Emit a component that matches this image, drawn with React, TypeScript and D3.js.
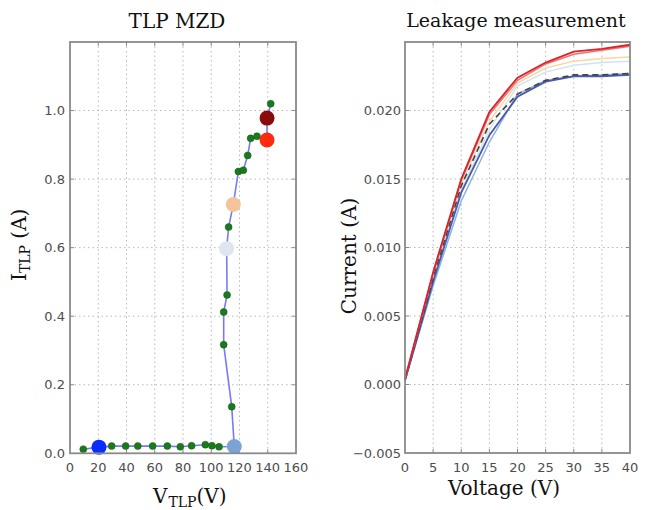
import React from "react";
import * as d3 from "d3";

// ---------- Left panel: TLP I-V ----------
const tlpV = [9.4, 20.5, 29.5, 39.4, 48, 58.5, 68.9, 78.1, 86.1, 95.8, 100.5, 105.5, 116.3, 114.5, 108.8, 108.8, 111.2, 110.9, 112.3, 115.6, 119.2, 122.7, 125.8, 127.9, 132.4, 139.5, 139.5, 142.1];
const tlpI = [0.012, 0.018, 0.021, 0.021, 0.021, 0.021, 0.021, 0.019, 0.022, 0.025, 0.022, 0.019, 0.02, 0.136, 0.317, 0.412, 0.462, 0.597, 0.66, 0.726, 0.822, 0.826, 0.869, 0.919, 0.925, 0.914, 0.978, 1.02];

const hiV = [20.5, 116.3, 110.9, 115.6, 139.5, 139.5];
const hiI = [0.018, 0.02, 0.597, 0.726, 0.914, 0.978];
const hiColors = ["#0a2cff", "#7ba3d4", "#dfe6ef", "#f6c49a", "#ff2a10", "#8b0a0a"];

const tlpXTicks = [0, 20, 40, 60, 80, 100, 120, 140, 160];
const tlpYTicks = [0.0, 0.2, 0.4, 0.6, 0.8, 1.0];

// ---------- Right panel: leakage ----------
const leakV = [0, 5, 10, 15, 20, 25, 30, 35, 40];
const leakPale = [0.0003, 0.0077, 0.0142, 0.0186, 0.0218, 0.0228, 0.0233, 0.0235, 0.0236];
const leakPeach = [0.0003, 0.0079, 0.0146, 0.0192, 0.022, 0.0231, 0.0236, 0.0238, 0.0239];
const leakSteel = [0.0003, 0.0072, 0.0134, 0.0177, 0.0212, 0.0222, 0.0225, 0.0226, 0.0227];
const leakBlue = [0.0003, 0.0075, 0.014, 0.0182, 0.021, 0.0221, 0.0225, 0.0225, 0.0226];
const leakInitial = [0.0003, 0.0078, 0.0145, 0.019, 0.0212, 0.0222, 0.0226, 0.0226, 0.0227];
const leakRedLight = [0.0004, 0.0081, 0.0149, 0.0197, 0.0222, 0.0234, 0.0241, 0.0244, 0.0247];
const leakRed = [0.0004, 0.0082, 0.015, 0.0199, 0.0224, 0.0235, 0.0243, 0.0245, 0.0248];

const leakXTicks = [0, 5, 10, 15, 20, 25, 30, 35, 40];
const leakYTicks = [-0.005, 0.0, 0.005, 0.01, 0.015, 0.02];

const W = 648;
const H = 510;
const tickFont = "DejaVu Sans, sans-serif";
const serif = "DejaVu Serif, serif";
const tickColor = "#4d4d4d";
const frameColor = "#8a8a8a";
const gridColor = "#b8b8b8";

function Frame({ x0, x1, y0, y1, xs, ys }: { x0: number; x1: number; y0: number; y1: number; xs: number[]; ys: number[] }) {
  return (
    <g>
      {xs.map((x, i) => (
        <g key={"gx" + i}>
          <line x1={x} x2={x} y1={y0} y2={y1} stroke={gridColor} strokeWidth={1} strokeDasharray="1.5,3" />
          <line x1={x} x2={x} y1={y1} y2={y1 - 4} stroke={frameColor} strokeWidth={1} />
          <line x1={x} x2={x} y1={y0} y2={y0 + 4} stroke={frameColor} strokeWidth={1} />
        </g>
      ))}
      {ys.map((y, i) => (
        <g key={"gy" + i}>
          <line x1={x0} x2={x1} y1={y} y2={y} stroke={gridColor} strokeWidth={1} strokeDasharray="1.5,3" />
          <line x1={x0} x2={x0 + 4} y1={y} y2={y} stroke={frameColor} strokeWidth={1} />
          <line x1={x1} x2={x1 - 4} y1={y} y2={y} stroke={frameColor} strokeWidth={1} />
        </g>
      ))}
    </g>
  );
}

export default function App() {
  // left scales
  const xL = d3.scaleLinear().domain([0, 160]).range([70, 296]);
  const yL = d3.scaleLinear().domain([0, 1.2]).range([453.3, 42]);
  // right scales
  const xR = d3.scaleLinear().domain([0, 40]).range([405, 630]);
  const yR = d3.scaleLinear().domain([-0.005, 0.025]).range([453, 42]);

  const tlpLine = d3
    .line<number>()
    .x((_, i) => xL(tlpV[i]))
    .y((d) => yL(d));

  const leakLine = d3
    .line<number>()
    .x((_, i) => xR(leakV[i]))
    .y((d) => yR(d));

  const leakSeries = [
    { data: leakPale, color: "#cfe3f5", w: 1.4, dash: "" },
    { data: leakPeach, color: "#f8d7a0", w: 1.4, dash: "" },
    { data: leakSteel, color: "#8cb2de", w: 1.5, dash: "" },
    { data: leakBlue, color: "#4658b0", w: 1.8, dash: "" },
    { data: leakInitial, color: "#444444", w: 1.6, dash: "6,4" },
    { data: leakRedLight, color: "#f07070", w: 1.6, dash: "" },
    { data: leakRed, color: "#d8232e", w: 1.8, dash: "" },
  ];

  const fmtL = d3.format(".1f");
  const fmtR = (v: number) => d3.format(".3f")(v).replace("-", "\u2212");

  return (
    <svg width={W} height={H} style={{ position: "absolute", left: 0, top: 0, background: "#fff" }}>
      <rect x={0} y={0} width={W} height={H} fill="#fff" />

      {/* ----- Left panel ----- */}
      <Frame
        x0={xL(0)}
        x1={xL(160)}
        y0={yL(1.2)}
        y1={yL(0)}
        xs={tlpXTicks.slice(1, -1).map((t) => xL(t))}
        ys={tlpYTicks.slice(1).map((t) => yL(t))}
      />
      <path d={tlpLine(tlpI) || ""} fill="none" stroke="#7a7af0" strokeWidth={1.6} />
      {tlpI.map((d, i) => (
        <circle key={"g" + i} cx={xL(tlpV[i])} cy={yL(d)} r={3.5} fill="#1b7a1b" stroke="#145c14" strokeWidth={0.5} />
      ))}
      {hiI.map((d, i) => (
        <circle key={"h" + i} cx={xL(hiV[i])} cy={yL(d)} r={7.5} fill={hiColors[i]} />
      ))}
      <rect x={xL(0)} y={yL(1.2)} width={xL(160) - xL(0)} height={yL(0) - yL(1.2)} fill="none" stroke={frameColor} strokeWidth={1.8} />
      {tlpXTicks.map((t, i) => (
        <text key={"lxt" + i} x={xL(t)} y={472} textAnchor="middle" fontFamily={tickFont} fontSize={13} fill={tickColor}>
          {t}
        </text>
      ))}
      {tlpYTicks.map((t, i) => (
        <text key={"lyt" + i} x={xL(0) - 5} y={yL(t) + 4.5} textAnchor="end" fontFamily={tickFont} fontSize={13} fill={tickColor}>
          {fmtL(t)}
        </text>
      ))}
      <text x={177} y={28} textAnchor="middle" fontFamily={serif} fontSize={20} fill="#111">
        TLP MZD
      </text>
      <text x={153} y={503} fontFamily={serif} fontSize={20} fill="#111">
        V
        <tspan fontSize={14} dx={1} dy={4}>TLP</tspan>
        <tspan fontSize={20} dy={-4}>(V)</tspan>
      </text>
      <text transform="translate(26,281) rotate(-90)" fontFamily={serif} fontSize={20} fill="#111">
        I
        <tspan fontSize={14} dy={4}>TLP</tspan>
        <tspan fontSize={20} dy={-4}> (A)</tspan>
      </text>

      {/* ----- Right panel ----- */}
      <Frame
        x0={xR(0)}
        x1={xR(40)}
        y0={yR(0.025)}
        y1={yR(-0.005)}
        xs={leakXTicks.slice(1, -1).map((t) => xR(t))}
        ys={leakYTicks.slice(1).map((t) => yR(t))}
      />
      {leakSeries.map((s, i) => (
        <path key={"lk" + i} d={leakLine(s.data) || ""} fill="none" stroke={s.color} strokeWidth={s.w} strokeDasharray={s.dash || undefined} />
      ))}
      <rect x={xR(0)} y={yR(0.025)} width={xR(40) - xR(0)} height={yR(-0.005) - yR(0.025)} fill="none" stroke={frameColor} strokeWidth={1.8} />
      {leakXTicks.map((t, i) => (
        <text key={"rxt" + i} x={xR(t)} y={472} textAnchor="middle" fontFamily={tickFont} fontSize={13} fill={tickColor}>
          {t}
        </text>
      ))}
      {leakYTicks.map((t, i) => (
        <text key={"ryt" + i} x={xR(0) - 4} y={yR(t) + 4.5} textAnchor="end" fontFamily={tickFont} fontSize={13} fill={tickColor}>
          {fmtR(t)}
        </text>
      ))}
      <text x={516} y={27} textAnchor="middle" fontFamily={serif} fontSize={19} fill="#111">
        Leakage measurement
      </text>
      <text x={504} y={495} textAnchor="middle" fontFamily={serif} fontSize={20} fill="#111">
        Voltage (V)
      </text>
      <text transform="translate(356,256) rotate(-90)" textAnchor="middle" fontFamily={serif} fontSize={20} fill="#111">
        Current (A)
      </text>
    </svg>
  );
}
